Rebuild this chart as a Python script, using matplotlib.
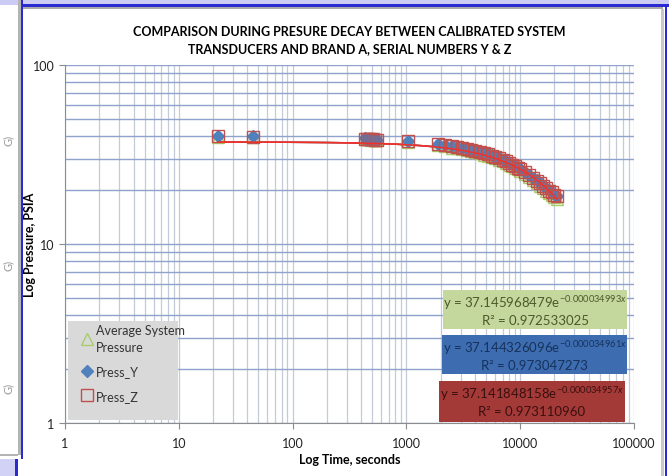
import numpy as np
import matplotlib.pyplot as plt
from matplotlib.patches import Rectangle

plt.rcParams['font.family'] = ['Lato', 'DejaVu Sans']
plt.rcParams['mathtext.fontset'] = 'custom'
plt.rcParams['mathtext.rm'] = 'Lato'
plt.rcParams['mathtext.it'] = 'Lato:italic'

# data (time in seconds, pressure in PSIA)
time_s = [22, 45, 430, 450, 470, 490, 510, 530, 550, 1030,
          1900, 2200, 2500, 2800, 3100, 3400, 3700, 4000,
          4400, 4800, 5200, 5600, 6000, 6500, 7000, 7500,
          8000, 8500, 9000, 9500, 10000, 11000, 12000, 13000,
          14000, 15000, 16000, 17000, 18000, 19000, 20000, 21000]
press_y = [40.0, 39.9, 38.9, 38.8, 38.7, 38.6, 38.5, 38.4, 38.3, 37.6,
           36.3, 35.8, 35.3, 34.9, 34.5, 34.1, 33.7, 33.3,
           32.8, 32.3, 31.8, 31.3, 30.8, 30.2, 29.6, 29.0,
           28.4, 27.9, 27.3, 26.8, 26.3, 25.3, 24.4, 23.5,
           22.7, 21.9, 21.2, 20.6, 20.0, 19.5, 19.0, 18.6]
press_z = [39.9, 39.8, 38.8, 38.7, 38.6, 38.5, 38.4, 38.3, 38.2, 37.5,
           36.2, 35.7, 35.2, 34.8, 34.4, 34.0, 33.6, 33.2,
           32.7, 32.2, 31.7, 31.2, 30.7, 30.1, 29.5, 28.9,
           28.3, 27.8, 27.2, 26.7, 26.2, 25.2, 24.3, 23.4,
           22.6, 21.8, 21.1, 20.5, 19.9, 19.4, 18.9, 18.5]
avg_sys = [39.7, 39.6, 38.6, 38.5, 38.4, 38.3, 38.2, 38.1, 38.0, 37.3,
           35.7, 35.1, 34.6, 34.2, 33.8, 33.4, 33.0, 32.6,
           32.1, 31.6, 31.1, 30.6, 30.1, 29.5, 28.9, 28.3,
           27.7, 27.2, 26.6, 26.1, 25.6, 24.6, 23.7, 22.8,
           22.0, 21.2, 20.5, 19.9, 19.3, 18.8, 18.3, 17.9]

# exponential trendline coefficients shown on the chart
fit_avg = (37.145968479, 0.000034993, 0.972533025)
fit_y = (37.144326096, 0.000034961, 0.973047273)
fit_z = (37.141848158, 0.000034957, 0.973110960)

W, H = 669, 477
fig = plt.figure(figsize=(W / 100, H / 100), dpi=100)
fig.patch.set_facecolor('white')


def px(x0, y0, x1, y1, **kw):
    fig.patches.append(Rectangle((x0 / W, 1 - y1 / H), (x1 - x0) / W, (y1 - y0) / H,
                                 transform=fig.transFigure, **kw))


# slide frame around the chart
px(0, 0, W, 6, color='#CBCBF4', lw=0)
px(21, 5, W, 7.5, color='#2A2AD2', lw=0)
px(23, 7.5, 663, 10, color='#A9A9A9', lw=0)
px(18, 0, 20.5, 456, color='#B4B4B4', lw=0)
px(20.5, 0, 23, 460, color='#2A2AD2', lw=0)
px(664.5, 5, 667, H, color='#2A2AD2', lw=0)
px(661, 10, 664, H, color='#C8C8C8', lw=0)
px(0, 455, 18, 457, color='#B4B4B4', lw=0)
px(0, 460, 16, H, color='#D2D2F6', lw=0)
px(15, 460, 17.5, H, color='#2A2AD2', lw=0)
for yy in (140, 265, 388):
    fig.text(8 / W, 1 - yy / H, 'G)', rotation=90, fontsize=8, color='#999999',
             ha='center', va='center')

ax = fig.add_axes([65 / W, 1 - 424 / H, (634 - 65) / W, (424 - 66) / H])
ax.set_xscale('log')
ax.set_yscale('log')
ax.set_xlim(1, 100000)
ax.set_ylim(1, 100)

ax.grid(True, which='both', axis='x', color='#C3CBDA', lw=0.9)
ax.grid(True, which='both', axis='y', color='#8EA2CC', lw=1.0)
ax.set_axisbelow(True)
for s in ('top', 'right'):
    ax.spines[s].set_visible(False)
for s in ('left', 'bottom'):
    ax.spines[s].set_color('#8C8C8C')
ax.tick_params(which='major', length=4, color='#8C8C8C', labelsize=9, labelcolor='#222222')
ax.tick_params(which='minor', length=0)
ax.set_xticks([1, 10, 100, 1000, 10000, 100000])
ax.set_xticklabels(['1', '10', '100', '1000', '10000', '100000'])
ax.set_yticks([1, 10, 100])
ax.set_yticklabels(['1', '10', '100'])
ax.tick_params(axis='x', pad=6)

# trendlines across the data range
tt = np.logspace(np.log10(min(time_s)), np.log10(max(time_s)), 200)
for (a, b, r2), c in ((fit_avg, '#9BBB59'), (fit_y, '#4F81BD'), (fit_z, '#F0302C')):
    ax.plot(tt, a * np.exp(-b * tt), color=c, lw=1.1, zorder=2)

ax.plot(time_s, avg_sys, ls='none', marker='^', ms=9, mfc='none', mec='#A8CC6A',
        mew=1.0, label='Average System\nPressure', zorder=3)
ax.plot(time_s, press_y, ls='none', marker='D', ms=6.5, mfc='#4F81BD', mec='#4F81BD',
        label='Press_Y', zorder=4)
ax.plot(time_s, press_z, ls='none', marker='s', ms=8, mfc='none', mec='#C0504D',
        mew=1.0, label='Press_Z', zorder=5)
ax.plot(tt, fit_z[0] * np.exp(-fit_z[1] * tt), color='#F0302C', lw=1.1, zorder=6)

# legend box
ax.add_patch(Rectangle((0.005, 0.008), 0.194, 0.277, transform=ax.transAxes,
                       facecolor='#D9D9D9', edgecolor='none', zorder=7))
leg = ax.legend(loc='upper left', bbox_to_anchor=(0.015, 0.302), frameon=False,
                fontsize=9, labelspacing=1.0, handlelength=0.8, handletextpad=0.3,
                borderpad=0.2)
leg.set_zorder(8)
for t in leg.get_texts():
    t.set_color('#333333')
    t.set_linespacing(1.5)


# trendline equation boxes
def eq_box(x0, y0, x1, y1, fit, fc, tc):
    a0 = (x0 - 65) / 569
    b0 = (424 - y1) / 358
    ax.add_patch(Rectangle((a0, b0), (x1 - x0) / 569, (y1 - y0) / 358,
                           transform=ax.transAxes, facecolor=fc, edgecolor='none', zorder=7))
    xc = (a0 + (x1 - 65) / 569) / 2
    a, b, r2 = fit
    ax.text(xc, (424 - (y0 + 12)) / 358, 'y = %.9fe$^{-%.9fx}$' % (a, b),
            transform=ax.transAxes, ha='center', va='center', fontsize=9.5, color=tc, zorder=8)
    ax.text(xc, (424 - (y0 + 30)) / 358, 'R² = %.9f' % r2,
            transform=ax.transAxes, ha='center', va='center', fontsize=9.5, color=tc, zorder=8)


eq_box(443, 291, 627, 330, fit_avg, '#C4D79C', '#4B5A2C')
eq_box(442, 336, 627, 375, fit_y, '#3D6DB0', '#16325C')
eq_box(439, 382, 625, 423, fit_z, '#A43A38', '#3A0F0E')

ax.set_xlabel('Log Time, seconds', fontsize=9, fontweight='bold', labelpad=3)
ax.set_ylabel('Log Pressure, PSIA', fontsize=9, fontweight='bold', labelpad=-2)
ax.set_title('COMPARISON DURING PRESURE DECAY BETWEEN CALIBRATED SYSTEM\n'
             'TRANSDUCERS AND BRAND A, SERIAL NUMBERS Y & Z',
             fontsize=9, fontweight='bold', linespacing=1.6, pad=9)

fig.savefig('out.png', dpi=100)
